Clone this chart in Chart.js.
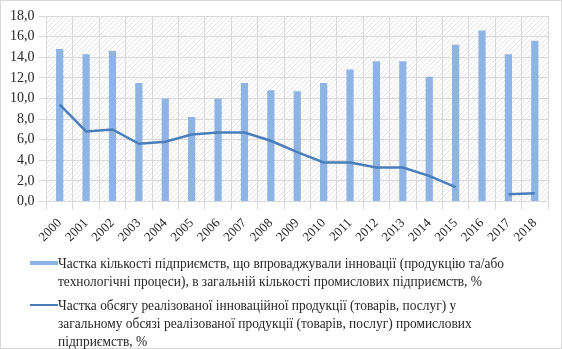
<!DOCTYPE html>
<html>
<head>
    <title>Innovation shares</title>
    <script src="https://cdn.jsdelivr.net/npm/chart.js"></script>
    <style>
        body { margin: 0; background: #fff; }
        #frame { position: absolute; left: 0; top: 0; width: 560px; height: 347px; border: 1px solid #d9d9d9; }
        #box { position: absolute; left: 0; top: 0; width: 562px; height: 260px; }
        #legend { position: absolute; left: 30px; top: 254px; width: 540px; color: #262626; }
        .item { display: flex; align-items: flex-start; margin-bottom: 6px; }
        .mark { flex: none; width: 28px; }
        .txt { width: 506px; font-family: "Liberation Serif"; font-size: 15px; line-height: 18px;
               transform: scaleX(0.895); transform-origin: 0 0; }
    </style>
</head>
<body>
    <div id="frame"></div>
    <div id="box"><canvas id="chart"></canvas></div>
    <div id="legend"></div>
    <script>
        const years = ['2000', '2001', '2002', '2003', '2004', '2005', '2006', '2007', '2008', '2009',
                       '2010', '2011', '2012', '2013', '2014', '2015', '2016', '2017', '2018'];
        const enterpriseShare = [14.8, 14.3, 14.6, 11.5, 10.0, 8.2, 10.0, 11.5, 10.8, 10.7,
                                 11.5, 12.8, 13.6, 13.6, 12.1, 15.2, 16.6, 14.3, 15.6];
        const productShare = [9.4, 6.8, 7.0, 5.6, 5.8, 6.5, 6.7, 6.7, 5.9, 4.8,
                              3.8, 3.8, 3.3, 3.3, 2.5, 1.4, null, 0.7, 0.8];
        const barLabel = 'Частка кількості  підприємств, що впроваджували інновації (продукцію та/або технологічні процеси), в загальній кількості промислових підприємств, %';
        const lineLabel = 'Частка обсягу реалізованої інноваційної продукції (товарів, послуг) у загальному обсязі реалізованої продукції (товарів, послуг) промислових підприємств, %';

        // diagonal hatch behind the plot
        const hatch = document.createElement('canvas');
        hatch.width = 5; hatch.height = 5;
        const hc = hatch.getContext('2d');
        hc.strokeStyle = '#e3e3e3';
        hc.lineWidth = 1;
        hc.beginPath();
        hc.moveTo(0, 5); hc.lineTo(5, 0);
        hc.moveTo(-1, 1); hc.lineTo(1, -1);
        hc.moveTo(4, 6); hc.lineTo(6, 4);
        hc.stroke();

        const hatchBg = {
            id: 'hatchBg',
            beforeDraw(chart) {
                const a = chart.chartArea, ctx = chart.ctx;
                ctx.save();
                ctx.fillStyle = ctx.createPattern(hatch, 'repeat');
                ctx.fillRect(a.left, a.top, a.right - a.left, a.bottom - a.top);
                ctx.restore();
            }
        };

        function draw() {
            const yFont = { family: 'Liberation Serif', size: 14 };
            const xFont = { family: 'Liberation Serif', size: 13 };

            const chart = new Chart(document.getElementById('chart'), {
                data: {
                    labels: years,
                    datasets: [{
                        type: 'line',
                        label: lineLabel,
                        data: productShare,
                        borderColor: '#4a7ebb',
                        borderWidth: 2.5,
                        pointRadius: 0,
                        tension: 0,
                        spanGaps: false
                    }, {
                        type: 'bar',
                        label: barLabel,
                        data: enterpriseShare,
                        backgroundColor: '#8eb4e3',
                        barPercentage: 0.55,
                        categoryPercentage: 0.5
                    }]
                },
                options: {
                    responsive: true,
                    maintainAspectRatio: false,
                    animation: false,
                    layout: { padding: { left: 6, right: 14, top: 16, bottom: 9 } },
                    plugins: { legend: { display: false }, tooltip: { enabled: false } },
                    scales: {
                        x: {
                            grid: { color: '#d9d9d9', offset: true },
                            border: { color: '#d9d9d9' },
                            ticks: { color: '#262626', font: xFont, autoSkip: false, minRotation: 45, maxRotation: 45, padding: 6 }
                        },
                        y: {
                            min: 0,
                            max: 18,
                            grid: { color: '#d9d9d9' },
                            border: { display: false },
                            ticks: {
                                stepSize: 2,
                                color: '#262626',
                                font: yFont,
                                padding: 4,
                                callback: v => v.toFixed(1).replace('.', ',')
                            }
                        }
                    }
                },
                plugins: [hatchBg]
            });

            // legend built from the datasets (bar first, as in the original)
            const legend = document.getElementById('legend');
            [chart.data.datasets[1], chart.data.datasets[0]].forEach(ds => {
                const item = document.createElement('div');
                item.className = 'item';
                const mark = document.createElement('div');
                mark.className = 'mark';
                if (ds.type === 'bar') {
                    mark.style.height = '4px';
                    mark.style.marginTop = '7px';
                    mark.style.background = ds.backgroundColor;
                } else {
                    mark.style.height = '2px';
                    mark.style.marginTop = '8px';
                    mark.style.background = ds.borderColor;
                }
                const text = document.createElement('div');
                text.className = 'txt';
                text.textContent = ds.label;
                item.appendChild(mark);
                item.appendChild(text);
                legend.appendChild(item);
            });
        }

        document.fonts.load('14px "Liberation Serif"').then(draw, draw);
    </script>
</body>
</html>
